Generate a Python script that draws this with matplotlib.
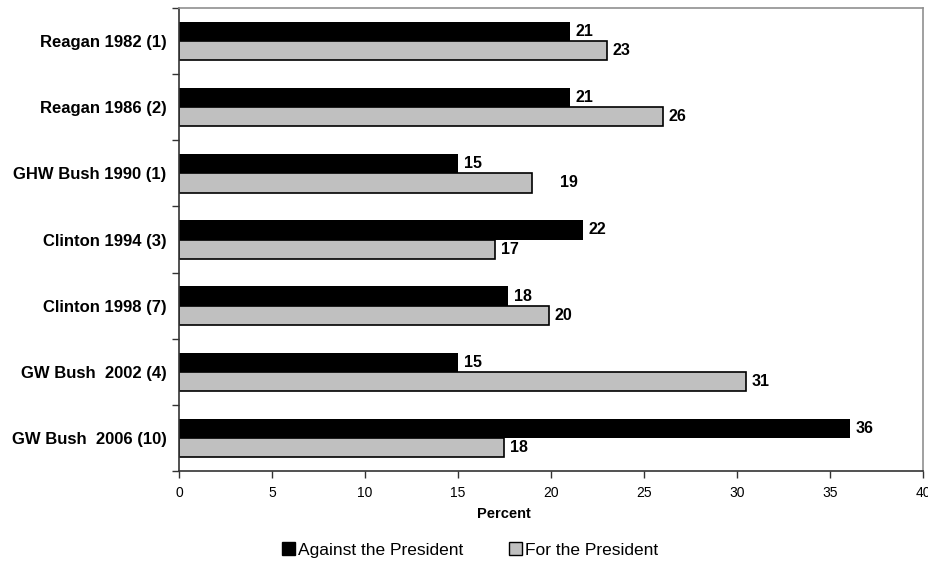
import math
import matplotlib
matplotlib.use("Agg")
import matplotlib.pyplot as plt
from matplotlib.patches import Patch
import numpy as np

plt.rcParams['font.family'] = ['Liberation Sans', 'DejaVu Sans']

categories = ["Reagan 1982 (1)", "Reagan 1986 (2)", "GHW Bush 1990 (1)",
              "Clinton 1994 (3)", "Clinton 1998 (7)", "GW Bush  2002 (4)",
              "GW Bush  2006 (10)"]
against = [21.0, 21.0, 15.0, 21.7, 17.7, 15.0, 36.1]
for_pres = [23.0, 26.0, 19.0, 17.0, 19.9, 30.5, 17.5]
series_names = ["Against the President", "For the President"]
x_ticks = [0, 5, 10, 15, 20, 25, 30, 35, 40]


def label_of(v):
    return str(int(math.floor(v + 0.5)))


W, H = 929, 561
fig = plt.figure(figsize=(W / 100, H / 100), dpi=100)
ax = fig.add_axes([179 / W, 1 - 471 / H, (923 - 179) / W, (471 - 8) / H])

n = len(categories)
y = np.arange(n)
bh = 0.29

ax.barh(y - bh / 2, against, height=bh, color="black", edgecolor="none")
ax.barh(y + bh / 2, for_pres, height=bh, color="#C0C0C0",
        edgecolor="black", linewidth=1.2)

for i, v in enumerate(against):
    ax.annotate(label_of(v), (v, i - bh / 2), xytext=(4, 0),
                textcoords="offset points", va="center", ha="left",
                fontsize=11.5, fontweight="bold")
for i, v in enumerate(for_pres):
    pad = 20 if i == 2 else 4
    ax.annotate(label_of(v), (v, i + bh / 2), xytext=(pad, 0),
                textcoords="offset points", va="center", ha="left",
                fontsize=11.5, fontweight="bold")

ax.set_xlim(0, 40)
ax.set_ylim(n - 0.5, -0.5)
ax.set_xticks(x_ticks)
ax.set_xticklabels([str(t) for t in x_ticks], fontsize=10)

ax.set_yticks(np.arange(n + 1) - 0.5, minor=False)
ax.set_yticklabels([])
ax.set_yticks(y, minor=True)
ax.set_yticklabels(categories, minor=True, fontsize=12, fontweight="bold")
ax.tick_params(axis="y", which="minor", length=0, pad=9)
ax.tick_params(axis="y", which="major", length=5, width=1, color="#333333")
ax.tick_params(axis="x", length=5, width=1, color="#333333", pad=6)

for s in ["top", "right"]:
    ax.spines[s].set_color("#909090")
    ax.spines[s].set_linewidth(1.2)
for s in ["left", "bottom"]:
    ax.spines[s].set_color("#333333")
    ax.spines[s].set_linewidth(1.2)

fig.text(504 / W, 1 - 514 / H, "Percent", ha="center", va="center",
         fontsize=10.5, fontweight="bold")

handles = [Patch(facecolor="black", edgecolor="black"),
           Patch(facecolor="#C0C0C0", edgecolor="black", linewidth=1.0)]
fig.legend(handles, series_names, loc="center", ncol=2,
           bbox_to_anchor=(470 / W, 1 - 550 / H), frameon=False,
           fontsize=12.5, handlelength=0.75, handleheight=0.75,
           handletextpad=0.2, columnspacing=2.6)

fig.savefig("out.png", dpi=100)
